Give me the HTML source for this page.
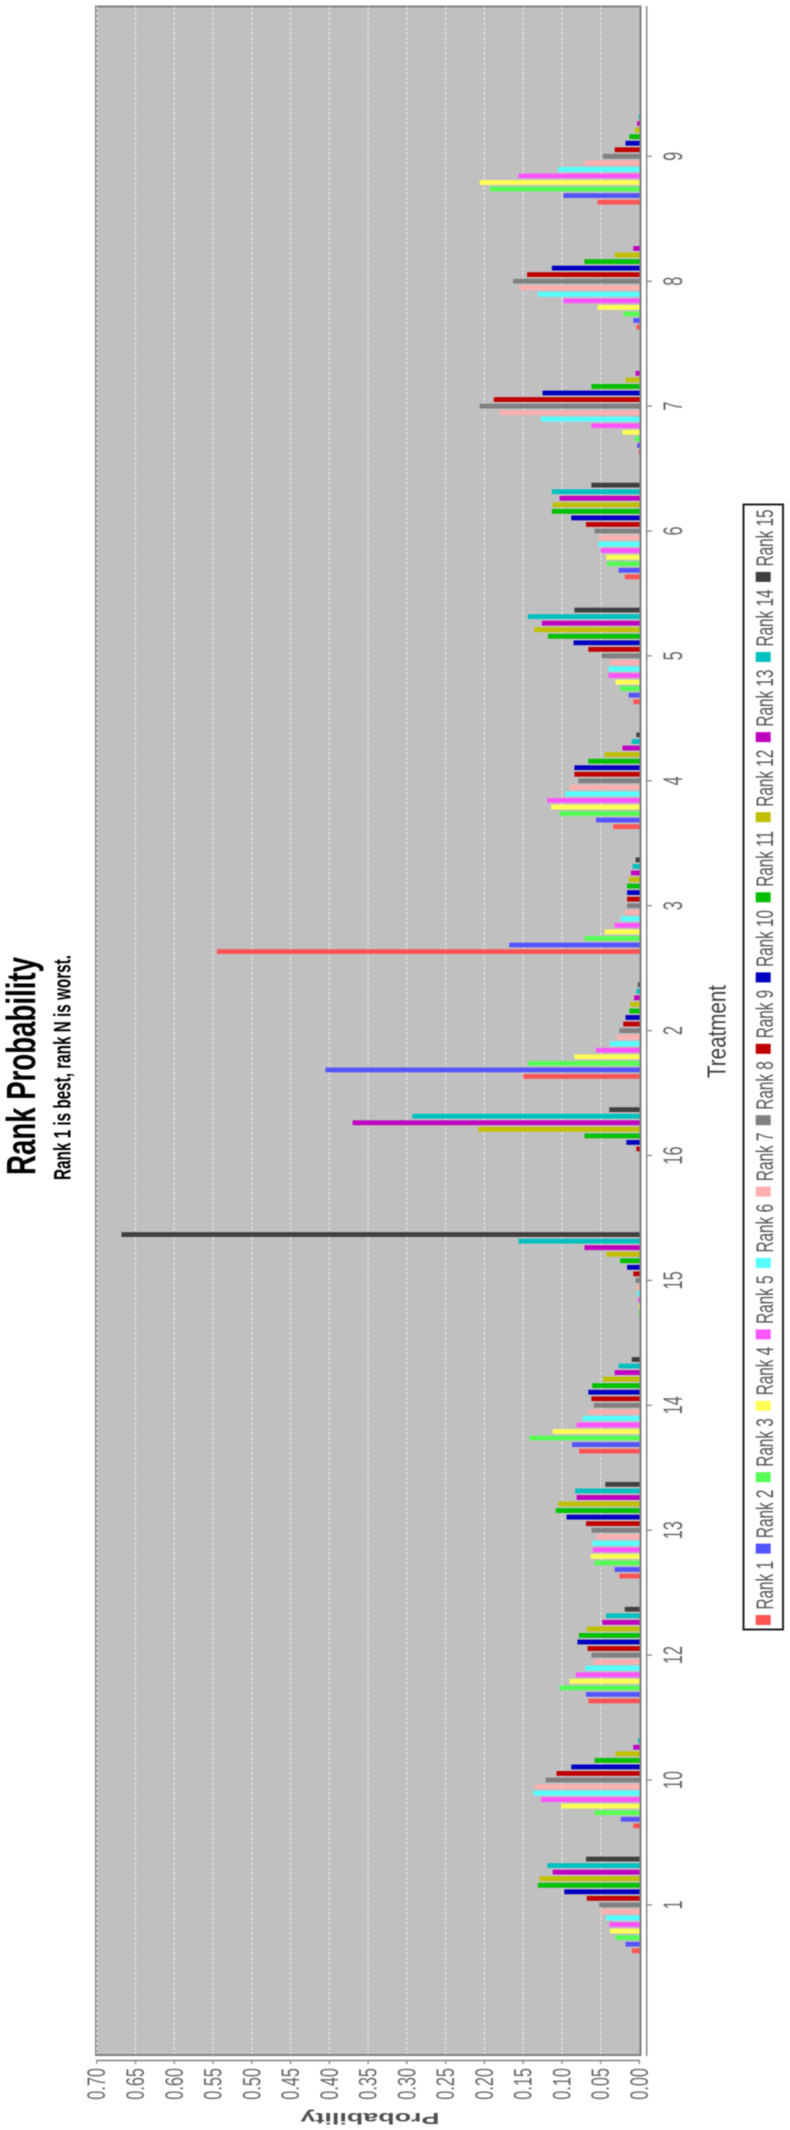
<!DOCTYPE html>
<html lang="en">
<head>
<meta charset="utf-8">
<title>Rank Probability</title>
<style>
html,body{margin:0;padding:0;background:#fff;}
body{width:790px;height:2130px;overflow:hidden;}
#chart{display:block;filter:blur(0.45px);}
text{font-family:"Liberation Sans",sans-serif;}
</style>
</head>
<body>
<svg id="chart" xmlns="http://www.w3.org/2000/svg" width="790" height="2130" viewBox="0 0 790 2130">
  <rect x="0" y="0" width="790" height="2130" fill="#ffffff"/>
  <rect x="96" y="6.5" width="544.5" height="2048.5" fill="#c0c0c0" stroke="#808080" stroke-width="2"/>
  <g id="grid"></g>
  <g id="bars"></g>
  <line x1="640.5" y1="6" x2="640.5" y2="2056" stroke="#808080" stroke-width="2"/>
  <line x1="646.7" y1="6" x2="646.7" y2="2056" stroke="#808080" stroke-width="1.4"/>
  <line x1="96.7" y1="2060.5" x2="640" y2="2060.5" stroke="#808080" stroke-width="1.4"/>
  <g id="axes"></g>
  <text transform="translate(35,1175) rotate(-90) scale(1,1.47)" font-size="27.6" font-weight="bold" fill="#000" textLength="218" lengthAdjust="spacingAndGlyphs">Rank Probability</text>
  <text transform="translate(70.3,1180) rotate(-90) scale(1,1.55)" font-size="15.3" font-weight="bold" fill="#000" textLength="225" lengthAdjust="spacingAndGlyphs">Rank 1 is best, rank N is worst.</text>
  <text transform="translate(725.3,1078) rotate(-90) scale(1,1.31)" font-size="20" fill="#404040" textLength="93" lengthAdjust="spacingAndGlyphs">Treatment</text>
  <text transform="translate(439.5,2113) rotate(180)" font-size="16" font-weight="bold" fill="#505050" textLength="139" lengthAdjust="spacingAndGlyphs">Probability</text>
  <rect x="743.5" y="504.5" width="39.5" height="1125" fill="#ffffff" stroke="#222222" stroke-width="2"/>
  <g id="legend"></g>
</svg>
<script>
// Categories, top to bottom in the picture
const treatments = ['9','8','7','6','5','4','3','2','16','15','14','13','12','10','1'];
const rankNames = ['Rank 1','Rank 2','Rank 3','Rank 4','Rank 5','Rank 6','Rank 7','Rank 8','Rank 9','Rank 10','Rank 11','Rank 12','Rank 13','Rank 14','Rank 15'];
const rankColors = ['#FF5555','#5555FF','#55FF55','#FFFF55','#FF55FF','#55FFFF','#FFAFAF','#808080','#C00000','#0000C0','#00C000','#C0C000','#C000C0','#00C0C0','#404040'];
const valueTicks = ['0.00','0.05','0.10','0.15','0.20','0.25','0.30','0.35','0.40','0.45','0.50','0.55','0.60','0.65','0.70'];

// Probability of each rank (1..15) for each treatment
const treatment9  = [0.054,0.098,0.193,0.206,0.156,0.105,0.071,0.047,0.032,0.018,0.013,0.006,0.003,0.001,0];
const treatment8  = [0.004,0.008,0.021,0.054,0.098,0.131,0.155,0.163,0.145,0.113,0.071,0.032,0.008,0,0];
const treatment7  = [0.001,0.003,0.006,0.022,0.062,0.127,0.181,0.206,0.188,0.125,0.062,0.018,0.005,0,0];
const treatment6  = [0.019,0.027,0.042,0.043,0.050,0.053,0.052,0.058,0.069,0.088,0.113,0.112,0.103,0.113,0.062];
const treatment5  = [0.008,0.014,0.025,0.031,0.040,0.040,0.038,0.049,0.066,0.085,0.118,0.136,0.126,0.144,0.084];
const treatment4  = [0.034,0.056,0.103,0.114,0.119,0.096,0.090,0.079,0.084,0.084,0.066,0.045,0.022,0.010,0.004];
const treatment3  = [0.545,0.168,0.071,0.045,0.032,0.024,0.019,0.016,0.016,0.016,0.016,0.014,0.011,0.009,0.005];
const treatment2  = [0.150,0.405,0.144,0.084,0.056,0.038,0.029,0.026,0.021,0.018,0.013,0.012,0.007,0.004,0.002];
const treatment16 = [0,0,0,0,0,0,0,0,0.004,0.017,0.071,0.208,0.370,0.293,0.039];
const treatment15 = [0,0,0.001,0.001,0.002,0.003,0.004,0.005,0.008,0.016,0.025,0.043,0.071,0.156,0.668];
const treatment14 = [0.078,0.087,0.142,0.112,0.081,0.073,0.066,0.059,0.062,0.066,0.061,0.047,0.032,0.027,0.010];
const treatment13 = [0.026,0.032,0.058,0.063,0.060,0.061,0.055,0.062,0.069,0.094,0.108,0.105,0.081,0.083,0.044];
const treatment12 = [0.066,0.069,0.103,0.090,0.082,0.070,0.059,0.062,0.067,0.080,0.078,0.068,0.048,0.043,0.019];
const treatment10 = [0.008,0.024,0.058,0.101,0.127,0.137,0.134,0.121,0.107,0.088,0.058,0.031,0.008,0.002,0];
const treatment1  = [0.010,0.018,0.031,0.038,0.039,0.043,0.050,0.052,0.068,0.097,0.131,0.129,0.112,0.119,0.069];
const seriesByTreatment = [treatment9,treatment8,treatment7,treatment6,treatment5,treatment4,treatment3,treatment2,treatment16,treatment15,treatment14,treatment13,treatment12,treatment10,treatment1];

const NS = 'http://www.w3.org/2000/svg';
const valueX = function (v) { return 639.5 - v * 775.4; };
const categoryY = function (i) { return 156.3 + i * 124.9; };
const barOffset = function (r) { return (7 - r) * 6.55; };
const BAR_THICKNESS = 4.8;

const gridGroup = document.getElementById('grid');
const barsGroup = document.getElementById('bars');
const axesGroup = document.getElementById('axes');
const legendGroup = document.getElementById('legend');

function make(tag, attrs, parent, content) {
  const el = document.createElementNS(NS, tag);
  for (const k in attrs) { el.setAttribute(k, attrs[k]); }
  if (content !== undefined) { el.textContent = content; }
  parent.appendChild(el);
  return el;
}

// Gridlines, value ticks and value labels
valueTicks.forEach(function (label) {
  const x = valueX(parseFloat(label));
  if (parseFloat(label) > 0) {
    const g = make('line', {x1: x, x2: x, y1: 7, y2: 2054, stroke: '#e6e6e6', 'stroke-width': 1.2, 'stroke-dasharray': '3 2'}, gridGroup);
    
    
  }
  const t = make('line', {x1: x, x2: x, y1: 2060, y2: 2064, stroke: '#808080', 'stroke-width': 1.2}, axesGroup);
  
  
  const l = make('text', {transform: 'translate(' + (x + 8.5) + ',2068) rotate(-90) scale(1,1.52)', 'font-size': 16.3, fill: '#666666', 'text-anchor': 'end'}, axesGroup, label);
  
  
});

// Bars, category ticks and category labels
treatments.forEach(function (name, i) {
  const cy = categoryY(i);
  const t = make('line', {x1: 647, x2: 652, y1: cy, y2: cy, stroke: '#808080', 'stroke-width': 1.2}, axesGroup);
  
  
  const l = make('text', {transform: 'translate(682,' + cy + ') rotate(-90) scale(1,1.62)', 'font-size': 16.3, fill: '#666666', 'text-anchor': 'middle'}, axesGroup, name);
  
  
  seriesByTreatment[i].forEach(function (v, r) {
    if (v <= 0) { return; }
    const x = valueX(v);
    const b = make('rect', {x: x, y: cy + barOffset(r) - BAR_THICKNESS / 2, width: valueX(0) - x, height: BAR_THICKNESS, fill: rankColors[r]}, barsGroup);
    
    
  });
});

// Legend, running bottom to top
let legendY = 1620;
rankNames.forEach(function (name, r) {
  const s = make('rect', {x: 755.7, y: legendY - 5, width: 15, height: 10, fill: rankColors[r]}, legendGroup);
  
  
  const l = make('text', {transform: 'translate(773,' + (legendY - 10.5) + ') rotate(-90) scale(1,1.59)', 'font-size': 15.3, fill: '#555555'}, legendGroup, name);
  
  
  legendY -= name.length > 6 ? 80.1 : 71.4;
});
</script>
</body>
</html>
